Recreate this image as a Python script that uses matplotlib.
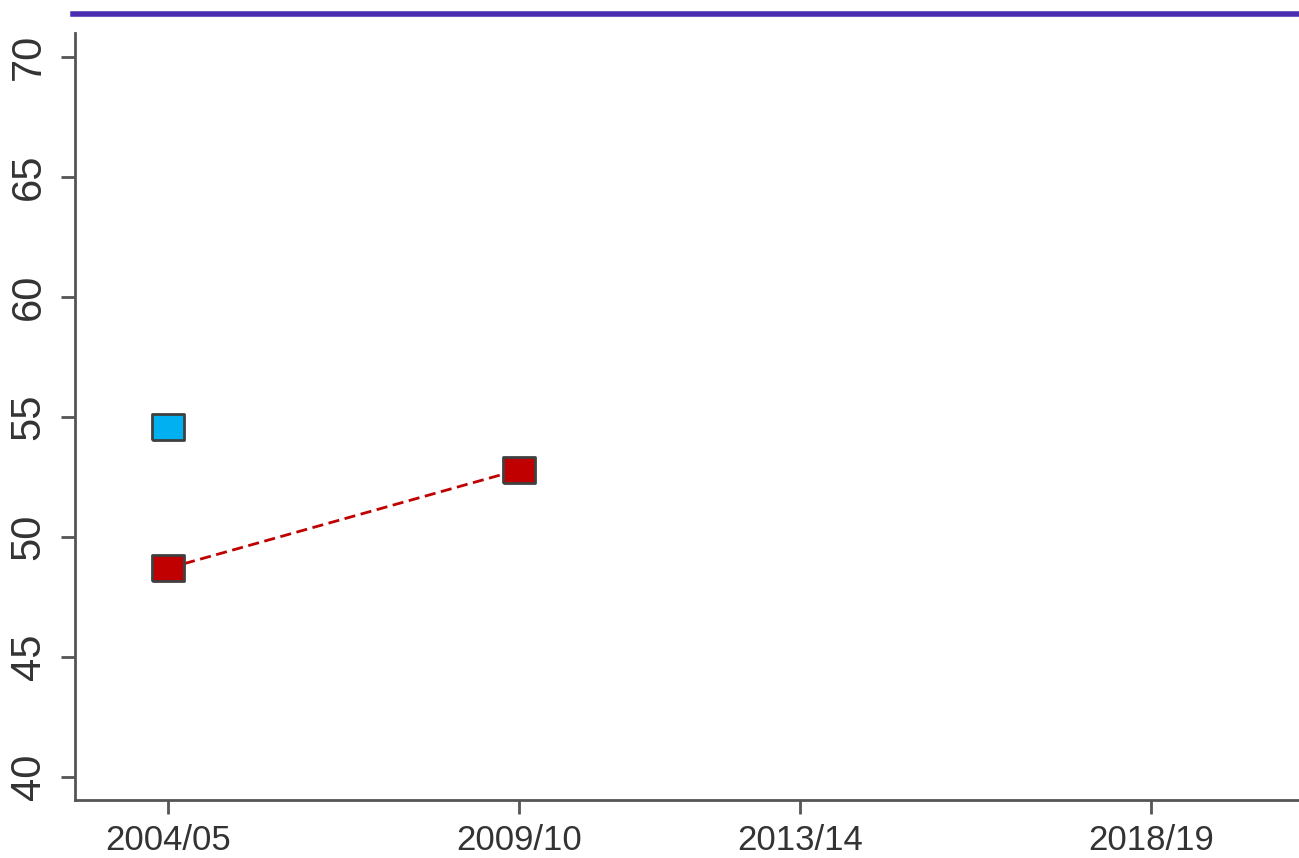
import matplotlib
matplotlib.use("Agg")
import matplotlib.pyplot as plt
from matplotlib.lines import Line2D

plt.rcParams["font.family"] = ["Liberation Sans", "DejaVu Sans"]

# survey rounds (x values are the start year of each round)
years = [2004, 2009, 2013, 2018]
labels = ["2004/05", "2009/10", "2013/14", "2018/19"]

blue_x = [2004]
blue_y = [54.6]
red_x = [2004, 2009]
red_y = [48.7, 52.8]

yticks = [40, 45, 50, 55, 60, 65, 70]

fig = plt.figure(figsize=(12.99, 8.58), dpi=100)
ax = fig.add_axes([75 / 1299, 1 - 800 / 858, 1 - 75 / 1299 + 0.01, (800 - 33) / 858])

# slightly rectangular square marker, like the original
box = [(-1.2, -1), (1.2, -1), (1.2, 1), (-1.2, 1), (-1.2, -1)]

ax.plot(red_x, red_y, color="#C00000", lw=2, ls=(0, (4, 2)), zorder=2)
ax.plot(red_x, red_y, ls="none", marker=box, ms=23, mfc="#C00000",
        mec="#404040", mew=2, zorder=3)
ax.plot(blue_x, blue_y, ls="none", marker=box, ms=23, mfc="#00B0F0",
        mec="#404040", mew=2, zorder=3)

ax.set_xlim(2002.675, 2020.295)
ax.set_ylim(39.04, 71.0)
ax.set_xticks(years)
ax.set_xticklabels(labels)
ax.set_yticks(yticks)
ax.set_yticklabels([str(v) for v in yticks], rotation=90, va="center")

for s in ["top", "right"]:
    ax.spines[s].set_visible(False)
for s in ["left", "bottom"]:
    ax.spines[s].set_color("#555555")
    ax.spines[s].set_linewidth(2)

ax.tick_params(axis="both", colors="#555555", width=2, length=10,
               labelcolor="#333333")
ax.tick_params(axis="y", pad=9, labelsize=30)
ax.tick_params(axis="x", pad=7, labelsize=25)

# blue rule across the top
fig.add_artist(Line2D([73 / 1299, 1.0], [1 - 14 / 858, 1 - 14 / 858],
                      color="#4A2DB0", lw=4, transform=fig.transFigure))

fig.savefig("out.png", dpi=100, facecolor="white")
